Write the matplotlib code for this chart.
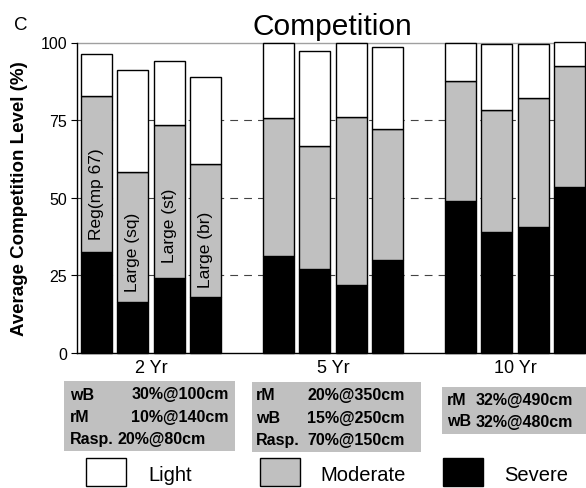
import numpy as np
import matplotlib
matplotlib.use("Agg")
import matplotlib.pyplot as plt
from matplotlib.patches import Rectangle

plt.rcParams['font.family'] = ['Liberation Sans', 'DejaVu Sans']

# ---------------------------------------------------------------
# data (percent of stems in each competition class)
# ---------------------------------------------------------------
groups = ['2 Yr', '5 Yr', '10 Yr']
treatments = ['Reg(mp 67)', 'Large (sq)', 'Large (st)', 'Large (br)']

severe = [32.4, 16.5, 24.2, 18.0,
          31.1, 27.1, 22.0, 29.9,
          49.0, 38.9, 40.7, 53.6]
moderate = [50.4, 41.9, 49.2, 42.8,
            44.6, 39.6, 54.1, 42.1,
            38.7, 39.4, 41.4, 38.8]
light = [13.5, 32.8, 20.6, 28.2,
         24.3, 30.5, 23.9, 26.5,
         12.3, 21.2, 17.4, 7.6]

# competing vegetation notes under each age class
notes_2yr = [('wB', '30%@100cm'), ('rM', '10%@140cm'), ('Rasp.', '20%@80cm')]
notes_5yr = [('rM', '20%@350cm'), ('wB', '15%@250cm'), ('Rasp.', '70%@150cm')]
notes_10yr = [('rM', '32%@490cm'), ('wB', '32%@480cm')]

legend_labels = ['Light', 'Moderate', 'Severe']

GRAY = '#c0c0c0'
W, H = 586, 489


def fx(x):
    return x / W


def fy(y):
    return 1 - y / H


fig = plt.figure(figsize=(W / 100, H / 100), dpi=100)
ax = fig.add_axes([fx(77), fy(354), 529 / W, 310.5 / H])

# bar slots: four bars per age class, one empty slot between classes
n_per = len(treatments)
xpos = np.array([g * (n_per + 1) + i for g in range(len(groups)) for i in range(n_per)])
sev = np.array(severe)
mod = np.array(moderate)
lig = np.array(light)

bw = 0.85
kw = dict(width=bw, edgecolor='black', linewidth=1.0, zorder=3, clip_on=False)
ax.bar(xpos, sev, color='black', **kw)
ax.bar(xpos, mod, bottom=sev, color=GRAY, **kw)
ax.bar(xpos, lig, bottom=sev + mod, color='white', **kw)

# treatment names written inside the 2 Yr bars
label_y = [51.6, 32.7, 41.3, 33.5]
for i, name in enumerate(treatments):
    ax.text(xpos[i], label_y[i], name, rotation=90, ha='center', va='center',
            fontsize=12.5, zorder=4)

# grid
for yv in [25, 50, 75]:
    ax.axhline(yv, color='#444444', lw=0.8, dashes=(7, 5.5), zorder=0)
ax.axhline(100, color='#a0a0a0', lw=1.0, zorder=0, clip_on=False)

ax.set_xlim(-0.53, 14.0)
ax.set_ylim(0, 100)
ax.set_yticks([0, 25, 50, 75, 100])
ax.tick_params(axis='y', labelsize=11.5, length=4, width=0.8, pad=3, direction='out')
centers = [g * (n_per + 1) + (n_per - 1) / 2 for g in range(len(groups))]
ax.set_xticks(centers)
ax.set_xticklabels(groups)
ax.tick_params(axis='x', labelsize=13, length=0, pad=4)
for s in ['top', 'right']:
    ax.spines[s].set_visible(False)
ax.spines['left'].set_linewidth(1.0)
ax.spines['bottom'].set_linewidth(1.0)

# titles
fig.text(fx(332), fy(35), 'Competition', fontsize=21.5, ha='center', va='baseline')
fig.text(fx(21), fy(25), 'C', fontsize=13.5, ha='center', va='center')
fig.text(fx(20), fy(199), 'Average Competition Level (%)', rotation=90,
         fontsize=13.5, fontweight='bold', ha='center', va='center')

# grey note boxes: (notes, box x, box y, box w, box h, row y's, name x, value x/align)
boxes = [
    (notes_2yr, 64, 382, 171, 70, [395, 418, 440], 70,
     [(229, 'right'), (229, 'right'), (118, 'left')]),
    (notes_5yr, 252, 383, 169, 70, [396, 419, 441], 256,
     [(307, 'left'), (307, 'left'), (307, 'left')]),
    (notes_10yr, 442, 388, 160, 47, [401, 422], 447,
     [(476, 'left'), (476, 'left')]),
]
for notes, bx, by, bwid, bht, rows, nx, vals in boxes:
    fig.patches.append(Rectangle((fx(bx), fy(by + bht)), bwid / W, bht / H,
                                 transform=fig.transFigure, facecolor=GRAY,
                                 edgecolor='none', zorder=0))
    for (name, val), ry, (vx, al) in zip(notes, rows, vals):
        fig.text(fx(nx), fy(ry), name, fontsize=11.5, fontweight='bold',
                 ha='left', va='center')
        fig.text(fx(vx), fy(ry), val, fontsize=11.5, fontweight='bold',
                 ha=al, va='center')

# legend
swatches = ['white', GRAY, 'black']
sw_x = [86, 260, 443]
txt_x = [148, 320, 504]
for lab, c, sx, tx in zip(legend_labels, swatches, sw_x, txt_x):
    fig.patches.append(Rectangle((fx(sx), fy(487)), 40 / W, 28 / H,
                                 transform=fig.transFigure, facecolor=c,
                                 edgecolor='black', linewidth=1.0))
    fig.text(fx(tx), fy(476), lab, fontsize=14.5, ha='left', va='center')

fig.savefig('out.png', dpi=100)
